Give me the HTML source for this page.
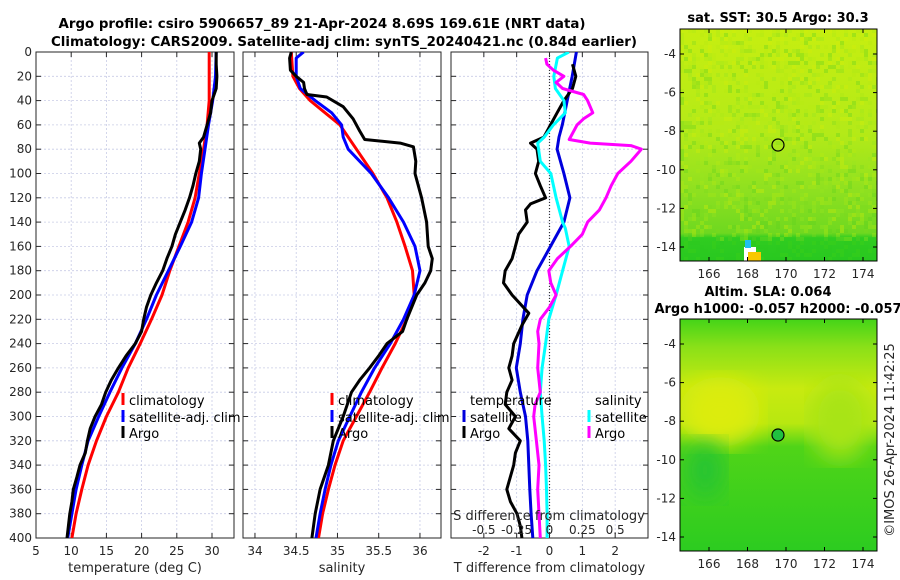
<!DOCTYPE html>
<html><head><meta charset="utf-8">
<style>
body{margin:0;background:#fff;}
svg{display:block;font-family:"DejaVu Sans","Liberation Sans",sans-serif;}
.tick{font-size:12px;fill:#262626;}
.lab{font-size:13px;fill:#262626;}
.ttl{font-size:13px;font-weight:bold;fill:#000;}
.leg{font-size:13px;fill:#000;}
</style></head>
<body>
<svg id="chart" width="900" height="580" viewBox="0 0 900 580">
<defs>
<linearGradient id="sstg" x1="0" y1="0" x2="0" y2="1">
<stop offset="0" stop-color="#c6ee10"/><stop offset="0.45" stop-color="#b4ea18"/>
<stop offset="0.7" stop-color="#8ee020"/><stop offset="0.88" stop-color="#6ed820"/>
<stop offset="0.9" stop-color="#30cc20"/><stop offset="1" stop-color="#28c820"/>
</linearGradient>
<linearGradient id="slag" x1="0" y1="0" x2="0" y2="1">
<stop offset="0" stop-color="#44d418"/><stop offset="0.12" stop-color="#8ae018"/>
<stop offset="0.3" stop-color="#c8ea10"/><stop offset="0.45" stop-color="#b8e810"/>
<stop offset="0.55" stop-color="#50d418"/><stop offset="1" stop-color="#2ccc20"/>
</linearGradient>
<filter id="blur"><feGaussianBlur stdDeviation="12"/></filter>
<clipPath id="c1"><rect x="36" y="52" width="198" height="486"/></clipPath>
<clipPath id="c2"><rect x="243" y="52" width="198" height="486"/></clipPath>
<clipPath id="c3"><rect x="451" y="52" width="197" height="486"/></clipPath>
<clipPath id="m1"><rect x="680" y="29" width="197" height="232"/></clipPath>
<clipPath id="m2"><rect x="680" y="319" width="197" height="232"/></clipPath>
</defs>
<text class="ttl" x="322" y="28" text-anchor="middle" textLength="527" lengthAdjust="spacingAndGlyphs">Argo profile: csiro 5906657_89 21-Apr-2024 8.69S 169.61E (NRT data)</text>
<text class="ttl" x="344" y="46" text-anchor="middle" textLength="586" lengthAdjust="spacingAndGlyphs">Climatology: CARS2009. Satellite-adj clim: synTS_20240421.nc (0.84d earlier)</text>
<g id="p1"></g>
<g id="p2"></g>
<g id="p3"></g>

<g>
<text class="ttl" x="778" y="22" text-anchor="middle">sat. SST: 30.5 Argo: 30.3</text>
<rect x="680" y="29" width="197" height="232" fill="url(#sstg)"/>
<g id="sstpix" clip-path="url(#m1)"></g>
<rect x="744" y="247" width="12" height="14" fill="#ffffff"/>
<rect x="748" y="252" width="13" height="9" fill="#f8c800"/>
<rect x="745" y="240" width="6" height="8" fill="#20c0f0"/>
<ellipse cx="778" cy="145" rx="6" ry="6" fill="none" stroke="#000" stroke-width="1.2"/>
<rect x="680" y="29" width="197" height="232" fill="none" stroke="#000" stroke-width="1"/>
</g>
<g>
<text class="ttl" x="768" y="296" text-anchor="middle">Altim. SLA: 0.064</text>
<text class="ttl" x="778" y="313" text-anchor="middle">Argo h1000: -0.057 h2000: -0.057</text>
<g clip-path="url(#m2)">
<rect x="680" y="319" width="197" height="232" fill="url(#slag)"/>
<ellipse cx="720" cy="412" rx="40" ry="35" fill="#dcec10" filter="url(#blur)"/>
<ellipse cx="840" cy="420" rx="30" ry="40" fill="#a8e418" filter="url(#blur)"/>
<ellipse cx="705" cy="470" rx="20" ry="30" fill="#28c430" filter="url(#blur)"/>
</g>
<circle cx="778" cy="435" r="6" fill="#20c040" stroke="#000" stroke-width="1.2"/>
<rect x="680" y="319" width="197" height="232" fill="none" stroke="#000" stroke-width="1"/>
</g>
<g id="maps"></g>
<text class="lab" x="0" y="0" transform="translate(894,440) rotate(-90)" text-anchor="middle">©IMOS 26-Apr-2024 11:42:25</text>

<script>
// depth axis
const depthTicks = [0,20,40,60,80,100,120,140,160,180,200,220,240,260,280,300,320,340,360,380,400];
// temperature panel
const tTicks = [5,10,15,20,25,30];
const tClimDepth = [0,20,40,60,80,100,120,140,160,180,200,220,240,260,280,300,320,340,360,380,400];
const tClim = [29.6,29.6,29.6,29.3,28.8,28.2,27.6,26.6,25.3,24.0,22.9,21.4,19.8,18.1,16.7,15.0,13.6,12.4,11.5,10.7,10.1];
const tSat = [30.6,30.5,30.1,29.5,29.0,28.5,28.1,27.1,25.5,23.8,22.1,20.7,19.1,17.2,15.5,13.9,12.4,11.5,10.7,10.1,9.5];
const argoDepth = [0,10,20,30,40,50,60,70,75,80,90,100,110,120,130,140,150,160,170,180,190,200,210,220,230,240,250,260,270,280,290,300,310,320,330,340,350,360,370,380,390,400];
const tArgo = [30.6,30.6,30.7,30.6,30.0,29.8,29.3,28.8,28.2,28.4,28.2,27.7,27.3,26.8,26.2,25.5,24.8,24.3,23.6,23.0,22.1,21.3,20.7,20.3,20.0,19.1,17.8,16.7,15.7,14.9,14.3,13.4,12.7,12.3,12.0,11.25,10.8,10.3,10.1,9.8,9.6,9.4];
// salinity panel
const sTicks = [34,34.5,35,35.5,36];
const sClimDepth = [0,20,30,40,50,60,80,100,120,140,160,180,200,220,240,260,280,300,320,340,360,380,400];
const sClim = [34.44,34.46,34.54,34.67,34.85,35.03,35.23,35.43,35.6,35.72,35.82,35.91,35.93,35.84,35.70,35.54,35.39,35.23,35.07,34.97,34.89,34.82,34.77];
const sSatDepth = [0,5,20,30,40,50,60,70,80,100,120,140,160,180,200,220,240,260,280,300,320,340,360,380,400];
const sSat = [34.59,34.5,34.5,34.55,34.73,34.93,35.05,35.07,35.13,35.41,35.62,35.8,35.94,36.0,35.93,35.8,35.64,35.45,35.29,35.15,35.01,34.92,34.85,34.79,34.74];
const sArgoDepth = [0,5,15,20,25,30,35,37,45,55,65,72,75,78,90,100,120,140,160,170,180,190,200,220,230,240,250,260,270,280,300,320,340,360,380,400];
const sArgo = [34.44,34.42,34.43,34.5,34.59,34.6,34.63,34.87,35.07,35.19,35.27,35.33,35.76,35.92,35.95,35.94,36.02,36.08,36.1,36.15,36.13,36.06,35.96,35.84,35.79,35.6,35.5,35.39,35.27,35.17,35.07,34.95,34.89,34.79,34.73,34.69];
// difference panel
const dtTicks = [-2,-1,0,1,2];
const dsTicks = [-0.5,-0.25,0,0.25,0.5];
const dsTickLabels = ["-0.5","-0.25","0","0.25","0.5"];
const dtSatDepth = [0,20,40,60,70,80,100,120,140,160,180,200,220,240,260,280,300,320,340,360,380,400];
const dtSat = [0.82,0.69,0.54,0.39,0.29,0.23,0.44,0.62,0.44,0.03,-0.38,-0.68,-0.81,-0.89,-1.01,-0.89,-0.73,-0.66,-0.63,-0.6,-0.56,-0.51];
const dtArgoDepth = [10,20,30,40,50,60,70,75,80,90,100,110,120,125,130,140,150,160,170,180,190,200,215,225,240,250,260,270,280,290,300,310,320,330,340,360,370,380,390,400];
const dtArgo = [0.7,0.8,0.7,0.44,0.23,0.03,-0.17,-0.58,-0.38,-0.33,-0.43,-0.28,-0.12,-0.58,-0.73,-0.68,-0.94,-1.04,-1.14,-1.35,-1.4,-1.14,-0.63,-0.84,-1.09,-1.14,-1.24,-1.14,-1.3,-1.35,-1.04,-1.24,-0.89,-1.04,-1.09,-1.3,-1.19,-0.99,-0.89,-0.84];
const dsSatDepth = [0,5,20,30,40,50,60,70,75,90,100,120,140,145,160,180,200,220,240,260,280,300,320,340,360,380,400];
const dsSat = [0.148,0.06,0.033,0.045,0.11,0.12,0.03,-0.04,-0.09,-0.07,0.01,0.05,0.1,0.12,0.15,0.1,0.05,-0.005,-0.03,-0.056,-0.07,-0.056,-0.04,-0.03,-0.023,-0.018,-0.018];
const dsArgoDepth = [5,10,15,20,25,30,35,40,50,55,60,70,72,75,77,80,90,100,110,120,130,140,150,160,170,180,190,200,210,220,230,240,260,280,290,300,320,340,360,380,400];
const dsArgo = [-0.03,-0.02,0.03,0.11,0.05,0.1,0.26,0.29,0.33,0.26,0.21,0.16,0.15,0.31,0.62,0.7,0.62,0.52,0.47,0.43,0.38,0.29,0.25,0.16,0.06,-0.005,0.01,0.05,0.0,-0.07,-0.09,-0.08,-0.09,-0.07,-0.11,-0.12,-0.1,-0.08,-0.09,-0.08,-0.07];

const NS="http://www.w3.org/2000/svg";
const Y0=52, Y1=538;
function yD(d){return Y0+(Y1-Y0)*d/400;}
function mk(tag,attrs,parent){const e=document.createElementNS(NS,tag);for(const k in attrs)e.setAttribute(k,attrs[k]);parent.appendChild(e);return e;}
function makeX(x0,x1,v0,v1){return v=>x0+(x1-x0)*(v-v0)/(v1-v0);}

function frame(g,x0,x1,xs,ticks,labels,showY,xlabel){
  depthTicks.forEach(d=>{
    const l=mk('line',{x1:x0,x2:x1,y1:yD(d),y2:yD(d),stroke:'#c8cce6','stroke-width':0.8,'stroke-dasharray':'2,2'},g);
    
    
    mk('line',{x1:x0,x2:x0+5,y1:yD(d),y2:yD(d),stroke:'#262626'},g);
    mk('line',{x1:x1-5,x2:x1,y1:yD(d),y2:yD(d),stroke:'#262626'},g);
    if(showY){const t=mk('text',{x:x0-4,y:yD(d)+4,'text-anchor':'end',class:'tick'},g);t.textContent=d;
      
      }
  });
  ticks.forEach((v,i)=>{
    const x=xs(v);
    const l=mk('line',{x1:x,x2:x,y1:Y0,y2:Y1,stroke:'#c8cce6','stroke-width':0.8,'stroke-dasharray':'2,2'},g);
    
    
    mk('line',{x1:x,x2:x,y1:Y1-5,y2:Y1,stroke:'#262626'},g);
    mk('line',{x1:x,x2:x,y1:Y0,y2:Y0+5,stroke:'#262626'},g);
    const t=mk('text',{x:x,y:555,'text-anchor':'middle',class:'tick'},g);t.textContent=labels[i];
    
    
  });
  mk('rect',{x:x0,y:Y0,width:x1-x0,height:Y1-Y0,fill:'none',stroke:'#262626','stroke-width':1},g);
  const xl=mk('text',{x:(x0+x1)/2,y:572,'text-anchor':'middle',class:'lab'},g);xl.textContent=xlabel;
  
  
}
function line(g,xs,depths,vals,color,name,clip){
  const pts=depths.map((d,i)=>xs(vals[i]).toFixed(1)+','+yD(d).toFixed(1)).join(' ');
  const p=mk('polyline',{points:pts,fill:'none',stroke:color,'stroke-width':3,'stroke-linejoin':'round','clip-path':'url(#'+clip+')'},g);
  
  
}
function legend(g,x,y,color,label,name){
  mk('rect',{x:x-1.5,y:y-7,width:3,height:12,fill:color},g);
  const t=mk('text',{x:x+6,y:y+5,class:'leg'},g);t.textContent=label;
  
  
}
const LY=[400,417,433];

const g1=document.getElementById('p1');
const xT=makeX(36,234,5,33.125);
frame(g1,36,234,xT,tTicks,tTicks.map(String),true,'temperature (deg C)');
line(g1,xT,tClimDepth,tClim,'#ff0000','temp-climatology-line','c1');
line(g1,xT,tClimDepth,tSat,'#0000ff','temp-satellite-line','c1');
line(g1,xT,argoDepth,tArgo,'#000000','temp-argo-line','c1');
legend(g1,123,LY[0],'#ff0000','climatology','legend-climatology');
legend(g1,123,LY[1],'#0000ff','satellite-adj. clim','legend-satellite');
legend(g1,123,LY[2],'#000000','Argo','legend-argo');

const g2=document.getElementById('p2');
const xS=makeX(243,441,33.855,36.255);
frame(g2,243,441,xS,sTicks,sTicks.map(String),false,'salinity');
line(g2,xS,sClimDepth,sClim,'#ff0000','sal-climatology-line','c2');
line(g2,xS,sSatDepth,sSat,'#0000ff','sal-satellite-line','c2');
line(g2,xS,sArgoDepth,sArgo,'#000000','sal-argo-line','c2');
legend(g2,332,LY[0],'#ff0000','climatology','legend-climatology-2');
legend(g2,332,LY[1],'#0000ff','satellite-adj. clim','legend-satellite-2');
legend(g2,332,LY[2],'#000000','Argo','legend-argo-2');

const g3=document.getElementById('p3');
const xDT=makeX(451,648,-3,3);
const xDS=makeX(451,648,-0.75,0.75);
frame(g3,451,648,xDT,dtTicks,dtTicks.map(String),false,'T difference from climatology');
const zl=mk('line',{x1:xDT(0),x2:xDT(0),y1:Y0,y2:Y1,stroke:'#333','stroke-width':1.2,'stroke-dasharray':'1,2'},g3);


line(g3,xDT,dtSatDepth,dtSat,'#0000dd','dt-satellite-line','c3');
line(g3,xDT,dtArgoDepth,dtArgo,'#000000','dt-argo-line','c3');
line(g3,xDS,dsSatDepth,dsSat,'#00ffff','ds-satellite-line','c3');
line(g3,xDS,dsArgoDepth,dsArgo,'#ff00ff','ds-argo-line','c3');
const st=mk('text',{x:549,y:520,'text-anchor':'middle',class:'lab'},g3);st.textContent='S difference from climatology';


dsTicks.forEach((v,i)=>{const t=mk('text',{x:xDS(v),y:534,'text-anchor':'middle',class:'tick'},g3);t.textContent=dsTickLabels[i];
  
  });
const th=mk('text',{x:470,y:LY[0]+5,class:'leg'},g3);th.textContent='temperature';


const sh=mk('text',{x:595,y:LY[0]+5,class:'leg'},g3);sh.textContent='salinity';


legend(g3,464,LY[1],'#0000dd','satellite','legend-t-satellite');
legend(g3,464,LY[2],'#000000','Argo','legend-t-argo');
legend(g3,589,LY[1],'#00ffff','satellite','legend-s-satellite');
legend(g3,589,LY[2],'#ff00ff','Argo','legend-s-argo');

// SST map texture (background speckle)
const sp=document.getElementById('sstpix');
const spColors=['#a8e818','#98e420','#d4ee08','#7ada20','#b8ec10','#5ed020'];
for(let j=0;j<58;j++){for(let i=0;i<50;i++){
  const h=(((i*73856093)^(j*19349663))>>>0)%97;
  if(h%7<4) continue;
  let c=spColors[h%6];
  if(j>52) c=(h%2)?'#2ac820':'#40d018';
  mk('rect',{x:680+i*4,y:29+j*4,width:4,height:4,fill:c,opacity:0.35},sp);
}}

const lonTicks=[166,168,170,172,174];
const latTicks=[-4,-6,-8,-10,-12,-14];
const gm=document.getElementById('maps');
function mapAxes(top,bottom,yAt4){
  const xl=makeX(709,863,166,174);
  const yl=v=>yAt4+19.3*(-4-v);
  lonTicks.forEach(v=>{mk('line',{x1:xl(v),x2:xl(v),y1:bottom,y2:bottom-4,stroke:'#000'},gm);
    mk('line',{x1:xl(v),x2:xl(v),y1:top,y2:top+4,stroke:'#000'},gm);
    const t=mk('text',{x:xl(v),y:bottom+17,'text-anchor':'middle',class:'tick'},gm);t.textContent=v;
    
    });
  latTicks.forEach(v=>{const y=yl(v);mk('line',{x1:680,x2:684,y1:y,y2:y,stroke:'#000'},gm);
    mk('line',{x1:873,x2:877,y1:y,y2:y,stroke:'#000'},gm);
    const t=mk('text',{x:676,y:y+4,'text-anchor':'end',class:'tick'},gm);t.textContent=v;
    
    });
}
mapAxes(29,261,54);
mapAxes(319,551,344);
</script>
</svg>
</body></html>
